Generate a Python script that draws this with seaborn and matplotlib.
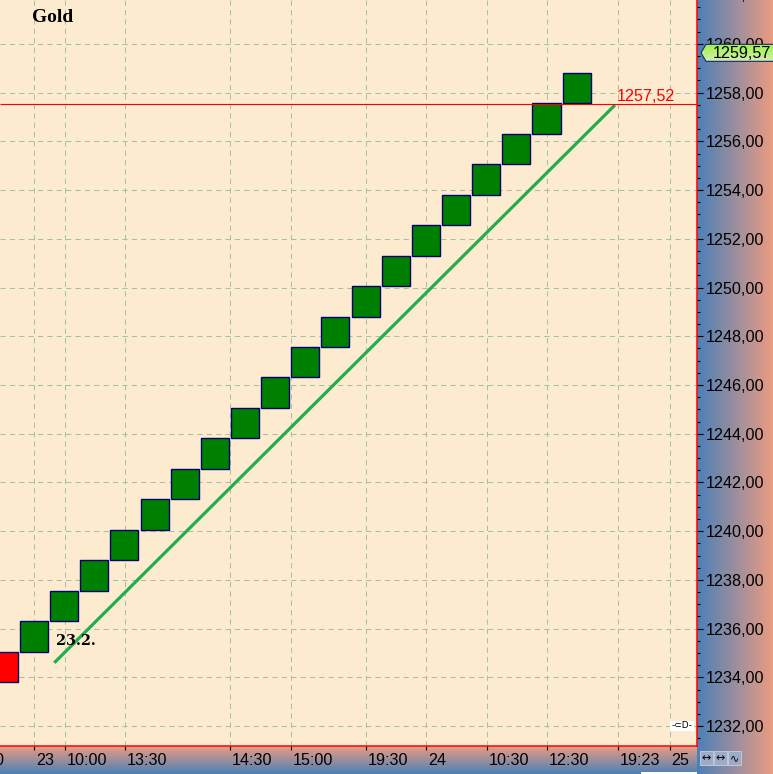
import numpy as np
import matplotlib
matplotlib.use("Agg")
import matplotlib.pyplot as plt
import seaborn as sns
from matplotlib import ticker
from matplotlib.patches import Polygon, Rectangle
from matplotlib.colors import LinearSegmentedColormap

# Renko bricks (low of each brick, direction), brick size 1.25
brick_low = [1233.81, 1235.06, 1236.31, 1237.56, 1238.81, 1240.06, 1241.31,
             1242.56, 1243.81, 1245.06, 1246.31, 1247.56, 1248.81, 1250.06,
             1251.31, 1252.56, 1253.81, 1255.06, 1256.31, 1257.56]
brick_dir = ["down", "up", "up", "up", "up", "up", "up", "up", "up", "up",
             "up", "up", "up", "up", "up", "up", "up", "up", "up", "up"]
brick_size = 1.25

# trend line drawn on the chart
trend_x = [2.16, 20.76]
trend_y = [1234.60, 1257.49]

ref_price = 1257.52
last_price = 1259.57

# time axis labels (positions in brick units)
tick_pos = [1.50, 2.53, 4.52, 8.0, 10.02, 12.51, 14.50, 16.52, 18.51, 20.87, 22.59]
tick_labels = ["23", "10:00", "13:30", "14:30", "15:00", "19:30", "24",
               "10:30", "12:30", "19:23", "25"]

date_label = "23.2."
date_x, date_y = 2.22, 1235.33

sns.set_theme(style="ticks")
plt.rcParams["font.family"] = ["Liberation Sans", "DejaVu Sans"]
plt.rcParams["text.color"] = "black"
plt.rcParams["lines.solid_capstyle"] = "butt"

W, H = 773, 774
LS = 11.6
fig = plt.figure(figsize=(W / 100, H / 100), dpi=100)
fig.patch.set_facecolor("#4a80b8")

# gradient panels for the axis areas
side_cmap = LinearSegmentedColormap.from_list("side", ["#4a80b8", "#eb9c82"])
grad = np.linspace(0, 1, 256)
side = fig.add_axes([697 / W, 0, 76 / W, 1], zorder=0)
side.imshow(grad[None, :], aspect="auto", cmap=side_cmap, extent=(0, 1, 0, 1))
side.axis("off")
bottom = fig.add_axes([0, 0, 697 / W, 28 / H], zorder=0)
bottom.imshow(grad[::-1][:, None], aspect="auto", cmap=side_cmap, extent=(0, 1, 0, 1))
bottom.axis("off")

ax = fig.add_axes([0, 28 / H, 697 / W, 746 / H], zorder=2)
ax.set_facecolor("#fdebd0")
ax.set_xlim(0.36, 23.48)
ax.set_ylim(1231.185, 1261.80)

# bricks
colors = ["#008000" if d == "up" else "#ff0000" for d in brick_dir]
ax.bar(np.arange(len(brick_low)) + 0.023, brick_size, bottom=brick_low, width=0.93,
       align="edge", color=colors, edgecolor="#000070", linewidth=1.0, zorder=3)

sns.lineplot(x=trend_x, y=trend_y, ax=ax, color="#22ad4e", linewidth=2.3, zorder=4)

ax.axhline(ref_price, color="#ff0000", linewidth=0.8, zorder=5)
ax.text(20.82, ref_price, f"{ref_price:.2f}".replace(".", ","), color="#ff0000",
        fontsize=LS, va="bottom", ha="left", zorder=5)

# axes / ticks
ax.yaxis.tick_right()
ax.yaxis.set_major_locator(ticker.MultipleLocator(2))
ax.yaxis.set_minor_locator(ticker.MultipleLocator(0.5))
ax.yaxis.set_major_formatter(ticker.FuncFormatter(lambda v, p: f"{v:.2f}".replace(".", ",")))
ax.tick_params(axis="y", which="major", length=4, width=0.8, pad=2.2,
               labelsize=LS, colors="black")
ax.tick_params(axis="y", which="minor", length=2, width=0.8, colors="black")
ax.set_xticks(tick_pos, tick_labels)
ax.tick_params(axis="x", length=3.2, width=0.8, pad=1.5, labelsize=LS, colors="black")
shift = matplotlib.transforms.ScaledTranslation(1.5 / 100, 0, fig.dpi_scale_trans)
for lab in ax.get_xticklabels():
    lab.set_ha("left")
    lab.set_transform(lab.get_transform() + shift)

ax.grid(True, which="major", color="#a9bfa5", linestyle=(0, (5, 4)), linewidth=0.75)
ax.set_axisbelow(True)
for s in ["left", "top"]:
    ax.spines[s].set_visible(False)
for s in ["right", "bottom"]:
    ax.spines[s].set_color("#ff0000")
    ax.spines[s].set_linewidth(1.1)

# partially visible labels at the edges
ax.annotate("1262,00", xy=(1, 1262), xycoords=("axes fraction", "data"),
            xytext=(8.5, 0), textcoords="offset pixels", va="center", ha="left",
            fontsize=LS, color="black", annotation_clip=False)
ax.annotate("0", xy=(0, 0), xycoords="axes fraction", xytext=(3, -7),
            textcoords="offset pixels", va="top", ha="right", fontsize=LS,
            color="black", annotation_clip=False)

ax.text(32 / 697, 1 - 21.7 / 746, "Gold", transform=ax.transAxes, color="black",
        fontfamily="Liberation Serif", fontweight="bold", fontsize=14, va="baseline")
ax.text(date_x, date_y, date_label, fontfamily="DejaVu Serif", fontweight="bold",
        fontsize=10.4, va="baseline", color="black", zorder=5)

# overlay in pixel coordinates
ov = fig.add_axes([0, 0, 1, 1], zorder=10)
ov.set_xlim(0, W)
ov.set_ylim(0, H)
ov.axis("off")
ov.patch.set_alpha(0)

yc = ax.transData.transform((0, last_price))[1] + 1.5
box = Polygon([(701, yc), (706, yc + 8.5), (775, yc + 8.5), (775, yc - 8.5), (706, yc - 8.5)],
              closed=True, facecolor="none", edgecolor="#1a2a6a", linewidth=0.8, zorder=3)
ov.add_patch(box)
box_cmap = LinearSegmentedColormap.from_list("box", ["#d4ebb4", "#9cf540"])
im = ov.imshow(grad[:, None], aspect="auto", cmap=box_cmap, origin="lower",
               extent=(701, 775, yc - 8.5, yc + 8.5), zorder=2)
im.set_clip_path(box)
ov.text(713, yc - 0.5, f"{last_price:.2f}".replace(".", ","), fontsize=LS,
        va="center", ha="left", color="black", zorder=4)

# small toolbar buttons and bottom strip
for x0, sym in [(700, "\u2194"), (714, "\u2194"), (728, "\u223f")]:
    ov.add_patch(Rectangle((x0, 9), 13, 14, facecolor="#9eabc6", edgecolor="#c8d0e0",
                           linewidth=0.6))
    ov.text(x0 + 6.5, 16, sym, fontsize=8, ha="center", va="center",
            family="DejaVu Sans", color="black")
ov.add_patch(Rectangle((0, 0), 641, 2.5, facecolor="#4f7fb0", edgecolor="none"))
ov.add_patch(Rectangle((641, 0), 56, 2.5, facecolor="white", edgecolor="none"))
ov.add_patch(Rectangle((670, 43), 24, 10, facecolor="white", edgecolor="none"))
ov.text(682, 48, "-\u2282D-", fontsize=6.5, ha="center", va="center",
        family="DejaVu Sans", color="black")

fig.savefig("out.png", dpi=100)
